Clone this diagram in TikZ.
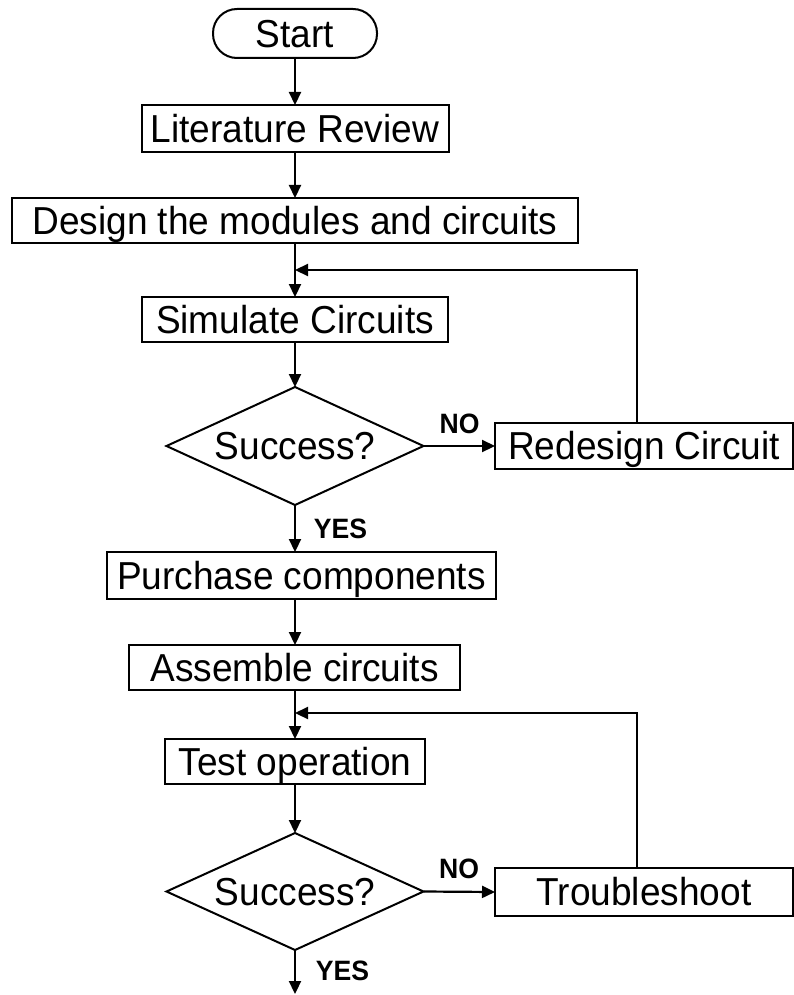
\documentclass[tikz,border=0pt]{standalone}
\usepackage{fontspec}
\setmainfont[FakeStretch=0.95]{Liberation Sans}
\usetikzlibrary{arrows.meta,shapes.geometric}
\begin{document}
\begin{tikzpicture}[x=1pt,y=-1pt,
  every node/.style={inner sep=0pt, outer sep=0pt},
  txt/.style={font=\fontsize{39}{46}\selectfont, text height=27.9pt, text depth=0pt},
  box/.style={txt, draw, line width=2pt, rectangle},
  term/.style={box, rounded corners=24pt},
  dec/.style={txt, draw, line width=2pt, diamond, aspect=2.18},
  lab/.style={font=\fontsize{28}{32}\selectfont\bfseries},
  arr/.style={line width=2.2pt, -{Triangle[length=13pt,width=12pt]}},
  ln/.style={line width=2.2pt}]
\fill[white] (0,0) rectangle (794,995);
\useasboundingbox (0,0) rectangle (794,995);

\node[term, minimum width=164pt, minimum height=49pt] (start) at (295,33.5) {Start};
\node[box, minimum width=307pt, minimum height=47pt] (lit) at (295,128.5) {Literature Review};
\node[box, minimum width=566pt, minimum height=45pt] (des) at (295,220.5) {Design the modules and circuits};
\node[box, minimum width=306pt, minimum height=45pt] (sim) at (295,319.5) {Simulate Circuits};
\node[dec, minimum width=257pt, minimum height=118pt] (d1) at (295,446) {Success?};
\node[box, minimum width=298pt, minimum height=46pt] (red) at (644,446) {Redesign Circuit};
\node[box, minimum width=389pt, minimum height=47pt] (pur) at (301.5,575.5) {Purchase components};
\node[box, minimum width=331pt, minimum height=45pt] (asm) at (294.5,667.5) {Assemble circuits};
\node[box, minimum width=260pt, minimum height=45pt] (test) at (295,761.5) {Test operation};
\node[dec, minimum width=257pt, minimum height=117pt] (d2) at (295,891.5) {Success?};
\node[box, minimum width=298pt, minimum height=48pt] (tro) at (644,892) {Troubleshoot};

\node[lab] (no1) at (459.5,423.5) {NO};
\node[lab] (yes1) at (340.5,529) {YES};
\node[lab] (no2) at (459,868.5) {NO};
\node[lab] (yes2) at (342.5,971) {YES};

\coordinate (j1) at (295,270);
\coordinate (c1) at (637,270);
\coordinate (j2) at (295,713);
\coordinate (c2) at (637,713);
\coordinate (endpt) at (295,994);

\draw[arr] (start.south) -- (lit.north);
\draw[arr] (lit.south) -- (des.north);
\draw[arr] (des.south) -- (sim.north);
\draw[arr] (c1 |- red.north) -- (c1) -- (j1);
\draw[arr] (sim.south) -- (d1.north);
\draw[arr] (d1.east) -- (red.west);
\draw[arr] (d1.south) -- (d1.south |- pur.north);
\draw[arr] (pur.south -| d1.south) -- (d1.south |- asm.north);
\draw[arr] (asm.south -| d1.south) -- (test.north);
\draw[arr] (c2 |- tro.north) -- (c2) -- (j2);
\draw[arr] (test.south) -- (d2.north);
\draw[arr] (d2.east) -- (tro.west);
\draw[arr] (d2.south) -- (endpt);
\end{tikzpicture}
\end{document}
